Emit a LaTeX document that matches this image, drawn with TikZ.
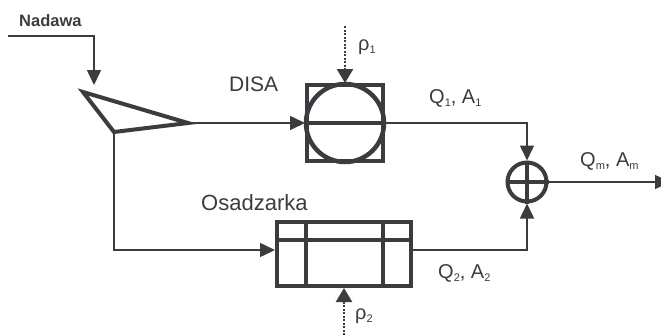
\documentclass[tikz,border=0pt]{standalone}
\usepackage{fontspec}
\setmainfont{Liberation Sans}
\usetikzlibrary{arrows.meta}
\definecolor{ink}{HTML}{3C3C40}
\tikzset{
  flow/.style={draw=ink,line width=1.5pt,-{Triangle[length=15pt,width=14pt]}},
  feed/.style={draw=ink,line width=2.5pt,dash pattern=on 2pt off 1.5pt,-{Triangle[length=14pt,width=16pt,sep=0pt]}},
  heavy/.style={draw=ink,line width=4pt},
  txt/.style={text=ink,inner sep=0pt,font=\fontsize{21}{23}\selectfont},
  eq/.style={text=ink,inner sep=0pt,font=\fontsize{20}{22}\selectfont},
  pt/.style={inner sep=0pt,minimum size=0pt}
}
\newcommand{\sbs}[1]{\raisebox{-3.5pt}{\fontsize{11}{12}\selectfont #1}}
\begin{document}
\begin{tikzpicture}[x=1pt,y=-1pt]
\useasboundingbox (0,0) rectangle (661,335);
\fill[white] (0,0) rectangle (661,335);
% splitter
\coordinate (tA) at (83,92);
\coordinate (tB) at (114,132);
\coordinate (tC) at (188,123);
\draw[draw=ink,line width=4pt,line join=miter] (tA) -- (tB) -- (tC) -- cycle;
% DISA
\node[pt,draw=ink,line width=4.5pt,minimum width=76pt,minimum height=76pt,outer sep=2pt] (disa) at (345,123) {};
\node[pt,circle,draw=ink,line width=4.5pt,minimum size=78pt] (disac) at (345,123) {};
\draw[heavy] (disa.west) -- (disa.east);
% Osadzarka
\node[pt,draw=ink,line width=4.5pt,minimum width=134pt,minimum height=64pt,outer sep=2pt] (osa) at (344,254) {};
\draw[heavy] (306,220) -- (306,288);
\draw[heavy] (383,220) -- (383,288);
\draw[heavy] (275,240) -- (413,240);
% Sum
\node[pt,circle,draw=ink,line width=4pt,minimum size=39pt,outer sep=2pt] (sum) at (527,182) {};
\draw[heavy] (sum.north) -- (sum.south);
\draw[heavy] (sum.west) -- (sum.east);
% free ends
\coordinate (inS) at (8,36);
\coordinate (inK) at (94,36);
\coordinate (inE) at (94,85);
\coordinate (p1S) at (345,26);
\coordinate (p2S) at (344,335);
\coordinate (out) at (670,182);
\coordinate (k1) at (527,123);
\coordinate (k2) at (527,250);
\coordinate (k3) at (114,250);
% connectors
\draw[flow] (inS) -- (inK) -- (inE);
\draw[flow] (tC) -- (disa.west);
\draw[flow] (tB) -- (k3) -- (k3 -| osa.west);
\draw[flow] (disa.east) -- (k1) -- (sum.north);
\draw[flow] (k2 -| osa.east) -- (k2) -- (sum.south);
\draw[flow] (sum.east) -- (out);
\draw[feed] (p1S) -- (disa.north);
\draw[feed] (p2S) -- (osa.south);
% labels
\node[txt,anchor=base west,font=\fontsize{16.5}{18}\selectfont\bfseries] (lNad) at (19,26) {Nadawa};
\node[txt,anchor=base west] (lDisa) at (229,91) {DISA};
\node[txt,anchor=base west,font=\fontsize{22}{24}\selectfont] (lOsa) at (201,210) {Osadzarka};
\node[eq,anchor=base west] (lQ1) at (429,103) {Q\sbs{1}, A\sbs{1}};
\node[eq,anchor=base west] (lQ2) at (438,278) {Q\sbs{2}, A\sbs{2}};
\node[eq,anchor=base west] (lQm) at (580,166) {Q\sbs{m}, A\sbs{m}};
\node[eq,anchor=base west] (lR1) at (358,50) {ρ\sbs{1}};
\node[eq,anchor=base west] (lR2) at (355,319) {ρ\sbs{2}};
\end{tikzpicture}
\end{document}
